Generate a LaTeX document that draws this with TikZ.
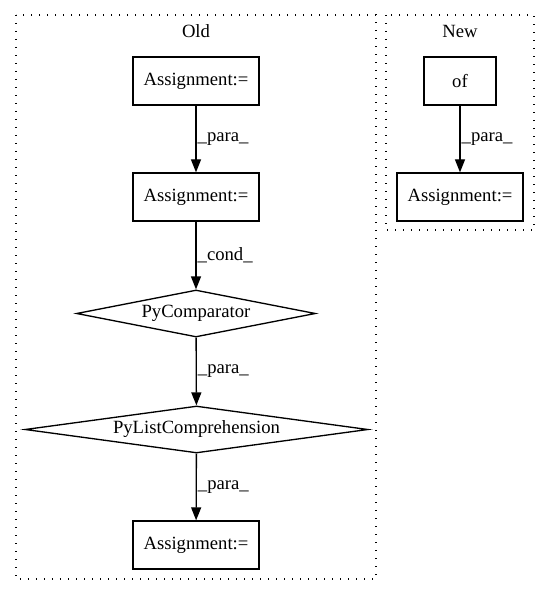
\documentclass[tikz,border=0pt]{standalone}
\usepackage{fontspec}
\setmainfont{Liberation Serif}
\usetikzlibrary{shapes.geometric,arrows.meta}

\begin{document}
\begin{tikzpicture}[x=1pt, y=-1pt, line width=1.33pt, font=\fontsize{18.67}{22}\selectfont,
  box/.style = {draw, rectangle, inner sep=0pt, minimum width=126pt, minimum height=48pt},
  cond/.style = {draw, diamond, aspect=6, inner sep=0pt, minimum height=47pt},
  group/.style = {draw, dash pattern=on 1.33pt off 6.67pt},
  edge/.style = {-{Triangle[length=13pt,width=10pt]}},
  lbl/.style = {right, inner sep=1pt}]
  \useasboundingbox (0,0) rectangle (549,596);
  \draw[group] (16,15) rectangle (376,579);
  \draw[group] (386,15) rectangle (534,230);
  \node (old) at (196,31) {Old};
  \node (new) at (460,31) {New};
  \node[box] (a1) at (196,81) {Assignment:=};
  \node[box] (a2) at (196,197) {Assignment:=};
  \node[cond, minimum width=239pt] (cmp) at (196,313.5) {PyComparator};
  \node[cond, minimum width=343pt] (lc) at (196.5,429.5) {PyListComprehension};
  \node[box] (a3) at (196,545) {Assignment:=};
  \node[box, minimum width=72pt] (of) at (460,81) {of};
  \node[box] (an) at (460,197) {Assignment:=};
  \draw[edge] (a1) -- node[lbl] {\_para\_} (a2);
  \draw[edge] (a2) -- node[lbl] {\_cond\_} (cmp);
  \draw[edge] (cmp) -- node[lbl] {\_para\_} (lc);
  \draw[edge] (lc) -- node[lbl] {\_para\_} (a3);
  \draw[edge] (of) -- node[lbl] {\_para\_} (an);
\end{tikzpicture}
\end{document}
